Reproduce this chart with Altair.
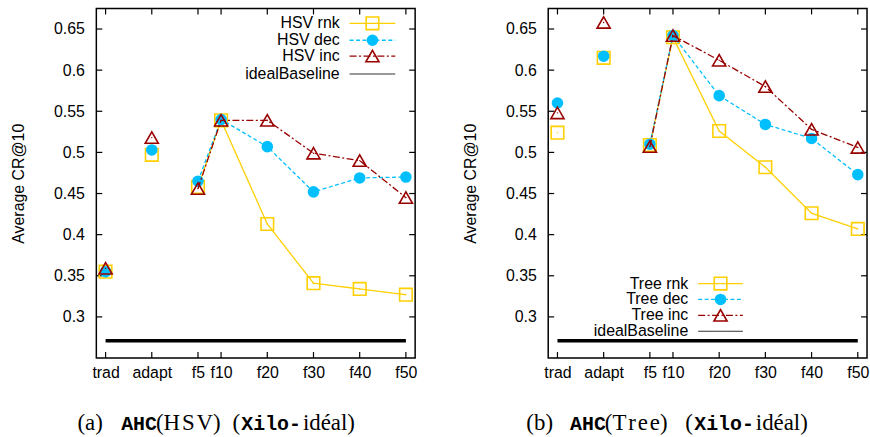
import altair as alt
import pandas as pd

# Categories on the x axis and their numeric positions (f5..f50 are spaced by their value)
categories = ["trad", "adapt", "f5", "f10", "f20", "f30", "f40", "f50"]
cat_pos = [-15, -5, 5, 10, 20, 30, 40, 50]

# Average CR@10, AHC(HSV)
hsv_rnk = [0.355, 0.497, 0.458, 0.539, 0.413, 0.341, 0.334, 0.327]
hsv_dec = [0.355, 0.503, 0.465, 0.540, 0.507, 0.452, 0.469, 0.470]
hsv_inc = [0.359, 0.518, 0.456, 0.539, 0.539, 0.499, 0.490, 0.445]

# Average CR@10, AHC(Tree)
tree_rnk = [0.524, 0.615, 0.509, 0.640, 0.526, 0.482, 0.426, 0.407]
tree_dec = [0.560, 0.617, 0.510, 0.642, 0.569, 0.534, 0.517, 0.473]
tree_inc = [0.548, 0.658, 0.507, 0.642, 0.612, 0.580, 0.528, 0.506]

ideal_baseline = 0.271
y_ticks = [0.3, 0.35, 0.4, 0.45, 0.5, 0.55, 0.6, 0.65]

W, H = 321, 352
SANS = "Liberation Sans"
SERIF = "Liberation Serif"
MONO = "Liberation Mono"
GOLD = "#ffcf00"
SKY = "#00bfff"
DARKRED = "#990000"
HAIR = "\u200a"

x_scale = alt.Scale(domain=[-17, 52], nice=False, zero=False)
y_scale = alt.Scale(domain=[0.25, 0.675], nice=False, zero=False)

label_expr = " : ".join(
    f"datum.value == {p} ? '{c}'" for p, c in zip(cat_pos, categories)
) + " : ''"

x_axis = alt.Axis(values=cat_pos, labelExpr=label_expr, title=None,
                  labelPadding=7, labelOverlap=False)
y_axis = alt.Axis(values=y_ticks, format="~g", title="Average CR@10",
                  labelPadding=12, titlePadding=27)


def X(field):
    return alt.X(field, type="quantitative", scale=x_scale, axis=x_axis)


def Y(field):
    return alt.Y(field, type="quantitative", scale=y_scale, axis=y_axis)


one_row = pd.DataFrame({"k": [0]})


def inward_ticks():
    ydf = pd.DataFrame({"v": y_ticks})
    xdf = pd.DataFrame({"p": cat_pos})
    base_y = alt.Chart(ydf).mark_rule(color="black", strokeWidth=1.2)
    base_x = alt.Chart(xdf).mark_rule(color="black", strokeWidth=1.2)
    return [
        base_y.encode(y=Y("v"), x=alt.value(0), x2=alt.value(6)),
        base_y.encode(y=Y("v"), x=alt.value(W - 6), x2=alt.value(W)),
        base_x.encode(x=X("p"), y=alt.value(H), y2=alt.value(H - 6)),
        base_x.encode(x=X("p"), y=alt.value(0), y2=alt.value(6)),
    ]


SERIES_STYLE = [
    # color, dash, shape, filled, size
    (GOLD, [1, 0], "square", False, 160),
    (SKY, [4, 2.5], "circle", True, 135),
    (DARKRED, [7, 2.5, 2, 2.5], "triangle-up", False, 175),
]


def series_layers(values):
    out = []
    for vals, (color, dash, shape, filled, size) in zip(values, SERIES_STYLE):
        df = pd.DataFrame({"x": cat_pos, "y": vals})
        line = (
            alt.Chart(df)
            .transform_filter(alt.datum.x >= 5)
            .mark_line(color=color, strokeWidth=1.3, strokeDash=dash)
            .encode(x=X("x"), y=Y("y"))
        )
        pts = alt.Chart(df).mark_point(
            shape=shape, filled=filled, size=size, color=color,
            strokeWidth=1.6, opacity=1,
        ).encode(x=X("x"), y=Y("y"))
        out += [line, pts]
        if not filled:
            out.append(
                alt.Chart(df).mark_point(shape="circle", filled=True, size=2,
                                         color=color, opacity=1)
                .encode(x=X("x"), y=Y("y"))
            )
    return out


def baseline_layer():
    df = pd.DataFrame({"x0": [cat_pos[0]], "x1": [cat_pos[-1]], "y": [ideal_baseline]})
    return alt.Chart(df).mark_rule(color="black", strokeWidth=3.4).encode(
        x=X("x0"), x2="x1", y=Y("y")
    )


def legend_layers(labels, text_right, line_x0, line_x1, rows_y):
    out = []
    styles = SERIES_STYLE + [("#333333", [1, 0], None, False, 0)]
    mid = (line_x0 + line_x1) / 2
    for label, ry, (color, dash, shape, filled, size) in zip(labels, rows_y, styles):
        out.append(
            alt.Chart(one_row).mark_text(
                text=label, align="right", baseline="middle",
                font=SANS, fontSize=16, color="black",
            ).encode(x=alt.value(text_right), y=alt.value(ry))
        )
        out.append(
            alt.Chart(one_row).mark_rule(
                color=color, strokeDash=dash,
                strokeWidth=1.3 if shape else 1.2,
            ).encode(x=alt.value(line_x0), x2=alt.value(line_x1), y=alt.value(ry))
        )
        if shape:
            out.append(
                alt.Chart(one_row).mark_point(
                    shape=shape, filled=filled, size=size, color=color,
                    strokeWidth=1.6, opacity=1,
                ).encode(x=alt.value(mid), y=alt.value(ry))
            )
    return out


def caption_layers(segments, y):
    out = []
    for text, x0, font, size, weight in segments:
        out.append(
            alt.Chart(one_row).mark_text(
                text=text, align="left", baseline="alphabetic",
                font=font, fontSize=size, fontWeight=weight, color="black",
            ).encode(x=alt.value(x0), y=alt.value(y))
        )
    return out


def caption(tag, name, start, name_dx):
    # "(a) AHC(HSV) (Xilo-idéal)" with typewriter parts, laid out piece by piece
    inner = "(" + HAIR.join(name) + ")"
    s = start
    return [
        (tag, s, SERIF, 23, "normal"),
        ("AHC", s + 44, MONO, 20, "bold"),
        (inner, s + 79, SERIF, 23, "normal"),
        ("(", s + 160 + name_dx, SERIF, 23, "normal"),
        ("Xilo-", s + 169 + name_dx, MONO, 20, "bold"),
        ("idéal)", s + 231 + name_dx, SERIF, 23, "normal"),
    ]


def panel(values, labels, legend_geom, cap):
    layers = inward_ticks() + [baseline_layer()] + series_layers(values)
    layers += legend_layers(labels, *legend_geom)
    layers += caption_layers(cap, 424)
    return alt.layer(*layers).properties(width=W, height=H)


left = panel(
    [hsv_rnk, hsv_dec, hsv_inc],
    ["HSV rnk", "HSV dec", "HSV inc", "idealBaseline"],
    (245, 255, 301, [15, 32, 48, 66]),
    caption("(a)", "HSV", -19, -4),
)

right = panel(
    [tree_rnk, tree_dec, tree_inc],
    ["Tree rnk", "Tree dec", "Tree inc", "idealBaseline"],
    (141, 151, 196, [277, 293, 309, 325]),
    caption("(b)", "Tree", -22, 0),
)

chart = (
    alt.hconcat(left, right, spacing=44)
    .properties(padding={"left": 10, "top": 5, "right": 0, "bottom": 0},
                background="white")
    .configure_view(stroke="black", strokeWidth=1.5)
    .configure_axis(
        labelFont=SANS, labelFontSize=16, labelColor="black",
        titleFont=SANS, titleFontSize=16, titleFontWeight="normal",
        titleColor="black", domain=False, ticks=False, grid=False,
    )
)

chart.save("out.html", embed_options={"renderer": "svg", "actions": False})
